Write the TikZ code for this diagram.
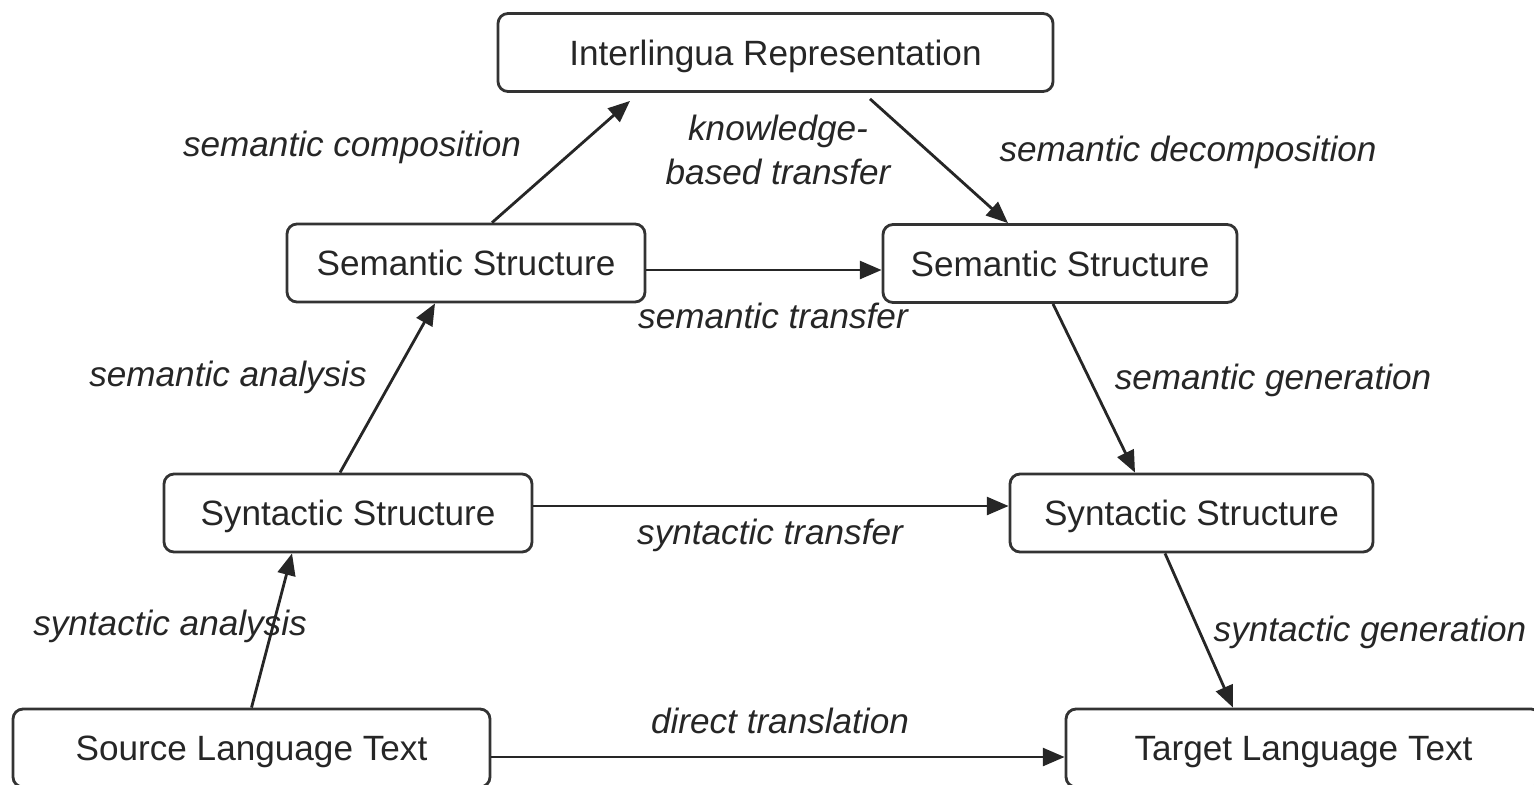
\documentclass[tikz,border=0pt]{standalone}
\usepackage{fontspec}
\setmainfont{Liberation Sans}
\usepackage{tikz}
\usetikzlibrary{arrows.meta, positioning, calc}

\begin{document}
\begin{tikzpicture}[
      >={Triangle[length=6.2pt, width=5.1pt]},
      box/.style={draw=black!80, line width=0.8pt, rounded corners=0.1cm, minimum height=0.78cm, font=\fontsize{10}{12}\selectfont, text=black!85, inner sep=0pt, text height=7.2pt, text depth=0pt},
      lbl/.style={font=\fontsize{10}{12.5}\selectfont\itshape, align=center, text=black!85},
      link/.style={->, line width=0.8pt, draw=black!85}
    ]
      \useasboundingbox (0, 0) rectangle (15.34, 7.84);

      % boxes
      \node[box, minimum width=5.55cm] (inter) at (7.755, 7.315) {Interlingua Representation};
      \node[box, minimum width=3.58cm] (semsrc) at (4.66, 5.21) {Semantic Structure};
      \node[box, minimum width=3.54cm] (semtgt) at (10.60, 5.205) {Semantic Structure};
      \node[box, minimum width=3.68cm] (synsrc) at (3.48, 2.71) {Syntactic Structure};
      \node[box, minimum width=3.63cm] (syntgt) at (11.915, 2.71) {Syntactic Structure};
      \node[box, minimum width=4.77cm] (srctext) at (2.515, 0.36) {Source Language Text};
      \node[box, minimum width=4.75cm] (tgttext) at (13.035, 0.36) {Target Language Text};

      % analysis side
      \draw[link] (srctext.north) -- ([xshift=-0.56cm]synsrc.south);
      \draw[link] ([xshift=-0.08cm]synsrc.north) -- ([xshift=-0.31cm]semsrc.south);
      \draw[link] ([xshift=0.26cm]semsrc.north) -- ([xshift=-1.455cm, yshift=-0.08cm]inter.south);

      % generation side
      \draw[link] ([xshift=0.945cm, yshift=-0.06cm]inter.south) -- ([xshift=-0.52cm]semtgt.north);
      \draw[link] ([xshift=-0.07cm]semtgt.south) -- ([xshift=-0.565cm]syntgt.north);
      \draw[link] ([xshift=-0.265cm]syntgt.south) -- ([xshift=-0.705cm]tgttext.north);

      % transfers
      \draw[link] ([yshift=-0.07cm]semsrc.east) -- ([yshift=-0.07cm]semsrc.east -| semtgt.west);
      \draw[link] ([yshift=0.07cm]synsrc.east) -- ([yshift=0.07cm]synsrc.east -| syntgt.west);
      \draw[link] ([yshift=-0.09cm]srctext.east) -- ([yshift=-0.09cm]srctext.east -| tgttext.west);

      % labels
      \node[lbl] (lcomp) at (3.52, 6.37) {semantic composition};
      \node[lbl] (lknow) at (7.78, 6.34) {knowledge-\\based transfer};
      \node[lbl] (ldecomp) at (11.88, 6.32) {semantic decomposition};
      \node[lbl] (lsemtr) at (7.73, 4.68) {semantic transfer};
      \node[lbl] (lsemana) at (2.28, 4.07) {semantic analysis};
      \node[lbl] (lsemgen) at (12.73, 4.04) {semantic generation};
      \node[lbl] (lsyntr) at (7.70, 2.49) {syntactic transfer};
      \node[lbl] (lsynana) at (1.70, 1.58) {syntactic analysis};
      \node[lbl] (lsyngen) at (13.70, 1.52) {syntactic generation};
      \node[lbl] (ldirect) at (7.80, 0.63) {direct translation};

    \end{tikzpicture}
\end{document}
